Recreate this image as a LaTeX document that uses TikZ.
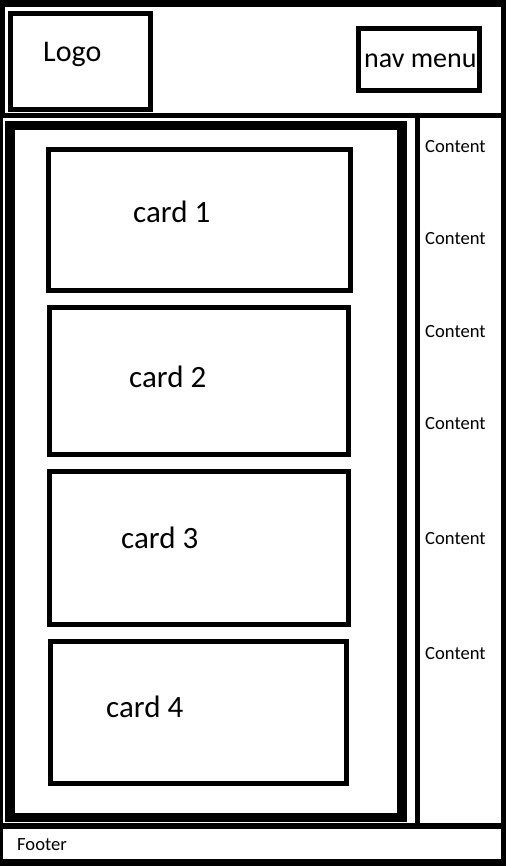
\documentclass[tikz,border=0pt]{standalone}
\usepackage{fontspec}
\setmainfont{Carlito}
\tikzset{
  box/.style={line width=5pt},
  bigtext/.style={font=\fontsize{31}{36}\selectfont,anchor=base west,inner sep=0pt},
  smalltext/.style={font=\fontsize{18.6}{22}\selectfont,anchor=base west,inner sep=0pt}
}
\begin{document}
\begin{tikzpicture}[line cap=butt,line join=miter,x=1pt,y=-1pt]
		\useasboundingbox (0,0) rectangle (506,866);
		\fill[white] (0,0) rectangle (506,866);
		% outer frame
		\draw [line width=7pt] (0,3.5)-- (506,3.5);
		\draw [line width=7pt] (0,862.5)-- (506,862.5);
		\draw [line width=5pt] (2.5,0)-- (2.5,115.5);
		\draw [line width=3pt] (1.5,115.5)-- (1.5,866);
		\draw [line width=5pt] (503.5,0)-- (503.5,866);
		% header and footer dividers
		\draw [line width=5pt] (0,115.5)-- (506,115.5);
		\draw [line width=6pt] (0,826)-- (506,826);
		% sidebar divider
		\draw [line width=5pt] (417.5,115.5)-- (417.5,826);
		% main column
		\draw [line width=9.5pt] (10,125.5) rectangle (402,817.5);
		% header boxes
		\draw [box] (10.8,13.5) rectangle (150.8,109.2);
		\draw [box] (358.5,28.5) rectangle (479.5,90.5);
		% cards
		\draw [box] (48.5,149.5) rectangle (350.5,290.5);
		\draw [box] (49.5,307.5) rectangle (348.5,454.5);
		\draw [box] (49.5,471.5) rectangle (348.5,624.5);
		\draw [box] (50.5,641.5) rectangle (346.5,783.5);
		% texts
		\node[bigtext,font=\fontsize{30}{35}\selectfont] (logo) at (43,62) {Logo};
		\node[bigtext,font=\fontsize{28}{32}\selectfont] (nav) at (364,68) {nav menu};
		\node[bigtext] (card1) at (133,223) {card 1};
		\node[bigtext] (card2) at (129,387) {card 2};
		\node[bigtext] (card3) at (121,548) {card 3};
		\node[bigtext] (card4) at (106,717) {card 4};
		\node[smalltext] (content1) at (425,153) {Content};
		\node[smalltext] (content2) at (425,245) {Content};
		\node[smalltext] (content3) at (425,337) {Content};
		\node[smalltext] (content4) at (425,429) {Content};
		\node[smalltext] (content5) at (425,544) {Content};
		\node[smalltext] (content6) at (425,659) {Content};
		\node[smalltext] (footer) at (17,850) {Footer};
	\end{tikzpicture}
\end{document}
